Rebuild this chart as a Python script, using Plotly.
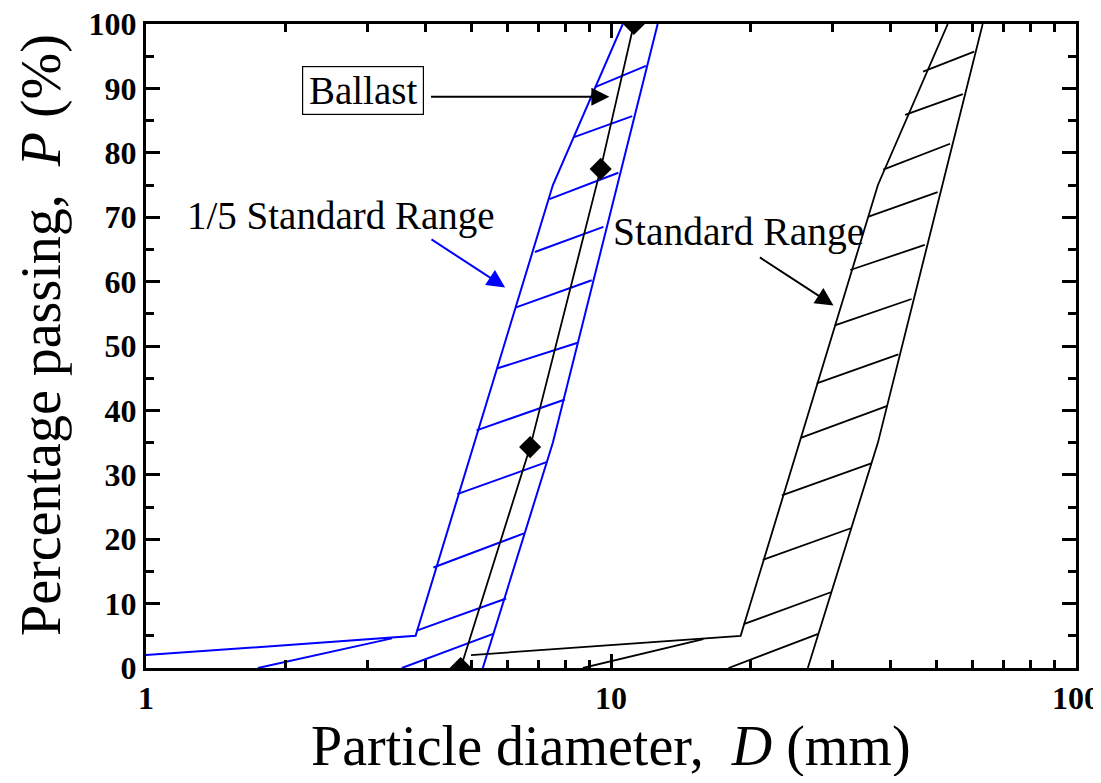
import math
import plotly.graph_objects as go

# ---------------- data ----------------
# Standard range envelope: particle diameter (mm) vs percentage passing (%)
std_fine_D = [5.0, 19.0, 37.5, 53.0]
std_fine_P = [2.0, 5.0, 75.0, 100.0]
std_coarse_D = [26.5, 37.5, 63.0]
std_coarse_P = [0.0, 35.0, 100.0]

# 1/5 standard range envelope
fifth_fine_D = [1.0, 3.8, 7.5, 10.6]
fifth_fine_P = [2.0, 5.0, 75.0, 100.0]
fifth_coarse_D = [5.3, 7.5, 12.6]
fifth_coarse_P = [0.0, 35.0, 100.0]

# Ballast grading curve
ballast_D = [4.75, 6.7, 9.5, 11.2]
ballast_P = [0.0, 34.3, 77.5, 100.0]

# Hatch segments of the standard range: (D1, P1) -> (D2, P2)
std_hatch_D1 = [8.7, 17.9, 19.3, 21.2, 23.3, 25.5, 27.7, 30.3, 32.7, 35.8, 38.5, 42.9, 46.9]
std_hatch_P1 = [0.0, 0.0, 6.8, 16.8, 26.8, 35.7, 44.2, 53.2, 61.8, 70.1, 77.4, 85.9, 92.6]
std_hatch_D2 = [15.8, 27.9, 29.8, 32.8, 36.4, 39.3, 41.5, 44.3, 47.3, 50.4, 53.6, 57.1, 60.4]
std_hatch_P2 = [4.5, 5.3, 11.8, 21.7, 31.8, 40.7, 48.7, 57.3, 65.7, 73.9, 81.4, 89.1, 95.7]

# Hatch segments of the 1/5 standard range
fifth_hatch_D1 = [1.74, 3.55, 3.82, 4.15, 4.67, 5.14, 5.68, 6.25, 6.86, 7.37, 8.30, 9.24]
fifth_hatch_P1 = [0.0, 0.0, 5.8, 15.6, 27.0, 36.9, 46.5, 56.0, 64.6, 72.8, 82.4, 90.2]
fifth_hatch_D2 = [3.38, 5.58, 5.95, 6.50, 7.29, 7.96, 8.48, 9.09, 9.63, 10.37, 11.11, 11.89]
fifth_hatch_P2 = [4.6, 5.3, 10.8, 20.9, 32.0, 41.7, 50.5, 60.2, 68.5, 76.9, 85.7, 93.5]

x_tick_vals = [1, 10, 100]
x_tick_text = ["1", "10", "100"]
x_minor_vals = [2, 3, 4, 5, 6, 7, 8, 9, 20, 30, 40, 50, 60, 70, 80, 90]
y_tick_vals = [0, 10, 20, 30, 40, 50, 60, 70, 80, 90, 100]

# ---------------- styling ----------------
BLUE = "#0000FF"
BLACK = "#000000"
FONT = "'Liberation Serif', 'Times New Roman', Times, serif"


def segments(d1, p1, d2, p2):
    xs, ys = [], []
    for a, b, c, d in zip(d1, p1, d2, p2):
        xs += [a, c, None]
        ys += [b, d, None]
    return xs, ys


fig = go.Figure()

# 1/5 standard range (blue)
hx, hy = segments(fifth_hatch_D1, fifth_hatch_P1, fifth_hatch_D2, fifth_hatch_P2)
fig.add_trace(go.Scatter(x=hx, y=hy, mode="lines", line=dict(color=BLUE, width=2), showlegend=False))
fig.add_trace(go.Scatter(x=fifth_fine_D, y=fifth_fine_P, mode="lines", line=dict(color=BLUE, width=2), showlegend=False))
fig.add_trace(go.Scatter(x=fifth_coarse_D, y=fifth_coarse_P, mode="lines", line=dict(color=BLUE, width=2), showlegend=False))

# Standard range (black)
hx, hy = segments(std_hatch_D1, std_hatch_P1, std_hatch_D2, std_hatch_P2)
fig.add_trace(go.Scatter(x=hx, y=hy, mode="lines", line=dict(color=BLACK, width=1.8), showlegend=False))
fig.add_trace(go.Scatter(x=std_fine_D, y=std_fine_P, mode="lines", line=dict(color=BLACK, width=1.8), showlegend=False))
fig.add_trace(go.Scatter(x=std_coarse_D, y=std_coarse_P, mode="lines", line=dict(color=BLACK, width=1.8), showlegend=False))

# Ballast
fig.add_trace(go.Scatter(x=ballast_D, y=ballast_P, mode="lines+markers",
                         line=dict(color=BLACK, width=1.8),
                         marker=dict(symbol="diamond", size=17, color=BLACK),
                         showlegend=False))

L = math.log10

# Text labels
fig.add_annotation(x=L(2.93), y=89.6, xref="x", yref="y", text="Ballast", showarrow=False,
                   font=dict(family=FONT, size=39, color=BLACK), width=116,
                   bordercolor=BLACK, borderwidth=1.2, borderpad=2, bgcolor="white")
fig.add_annotation(x=L(2.63), y=70.2, xref="x", yref="y", text="1/5 Standard Range", showarrow=False,
                   font=dict(family=FONT, size=39, color=BLACK))
fig.add_annotation(x=L(18.76), y=67.7, xref="x", yref="y", text="Standard Range", showarrow=False,
                   font=dict(family=FONT, size=39.5, color=BLACK))

# Arrows (tip at x,y; tail at ax,ay)
arrow_common = dict(xref="x", yref="y", axref="x", ayref="y", text="", showarrow=True,
                    arrowhead=2, arrowsize=1.8, arrowwidth=2)
fig.add_annotation(x=L(9.92), y=88.7, ax=L(4.07), ay=88.7, arrowcolor=BLACK, **arrow_common)
fig.add_annotation(x=L(5.92), y=59.1, ax=L(4.08), ay=66.7, arrowcolor=BLUE, **arrow_common)
fig.add_annotation(x=L(30.1), y=56.3, ax=L(20.75), ay=63.9, arrowcolor=BLACK, **arrow_common)

# Axis titles
fig.add_annotation(x=0.5, y=-0.121, xref="paper", yref="paper", showarrow=False,
                   text="Particle diameter, &nbsp;<i>D</i> (mm)", yanchor="middle", height=60,
                   font=dict(family=FONT, size=56, color=BLACK))
fig.add_annotation(x=-0.112, y=0.517, xref="paper", yref="paper", showarrow=False,
                   text="Percentage passing, &nbsp;<i>P</i> (%)", textangle=-90, height=60,
                   xanchor="center", yanchor="middle",
                   font=dict(family=FONT, size=56, color=BLACK))

axis_common = dict(showgrid=False, zeroline=False, showline=True, linecolor=BLACK, linewidth=3,
                   mirror="ticks", ticks="inside", ticklen=14, tickwidth=2.5, tickcolor=BLACK,
                   automargin=False, ticklabeloverflow="allow",
                   tickfont=dict(family=FONT, size=32, color=BLACK, weight="bold"))

fig.update_xaxes(type="log", range=[0, 2], tickmode="array", tickvals=x_tick_vals, ticktext=x_tick_text,
                 minor=dict(tickmode="array", tickvals=x_minor_vals, ticks="inside", ticklen=8,
                            tickwidth=2.5, tickcolor=BLACK, showgrid=False),
                 **axis_common)
fig.update_yaxes(range=[0, 100], tickmode="array", tickvals=y_tick_vals,
                 minor=dict(dtick=5, ticks="inside", ticklen=8, tickwidth=2.5, tickcolor=BLACK, showgrid=False),
                 **axis_common)

# the page places the figure 8 px in from the top-left corner; margins compensate
fig.update_layout(width=1101, height=783,
                  margin=dict(l=138, r=33, t=16, b=123, autoexpand=False),
                  font=dict(family=FONT, color=BLACK),
                  plot_bgcolor="white", paper_bgcolor="white")

fig.write_html("out.html")
